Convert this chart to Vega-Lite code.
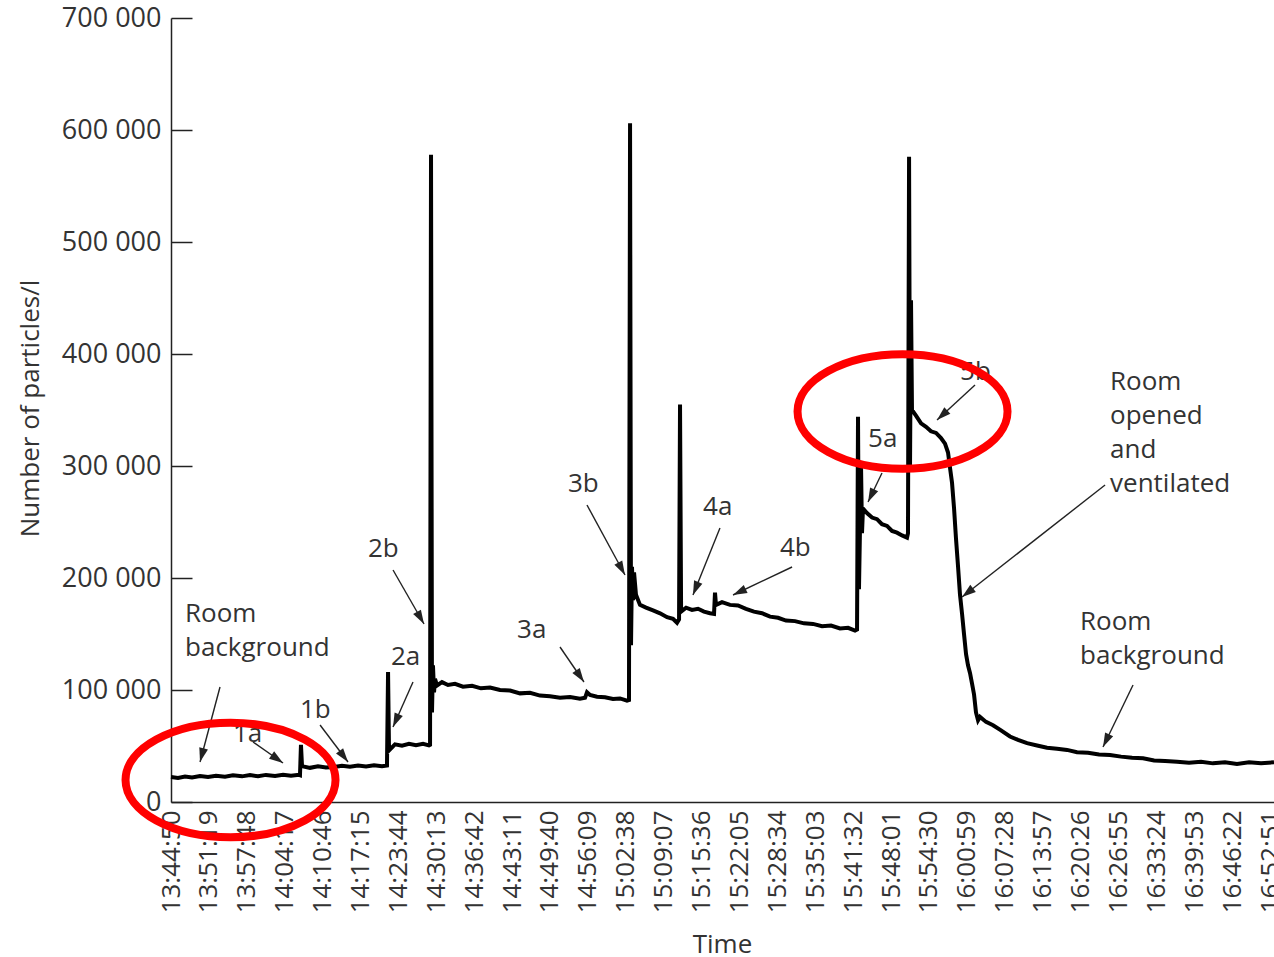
{
  "$schema": "https://vega.github.io/schema/vega-lite/v6.json",
  "width": 1103,
  "height": 784,
  "autosize": {"type": "none"},
  "padding": {"left": 171, "top": 18, "right": 0, "bottom": 155},
  "background": "white",
  "config": {"view": {"stroke": null}, "font": "Open Sans"},
  "datasets": {
    "series": [
      {"t":"13:44:50","v":22300},{"t":"13:46:02","v":21500},{"t":"13:47:14","v":22800},{"t":"13:48:26","v":21800},
      {"t":"13:49:48","v":23200},{"t":"13:51:10","v":22400},{"t":"13:52:32","v":23500},{"t":"13:54:04","v":22600},
      {"t":"13:55:26","v":23800},{"t":"13:56:59","v":22900},{"t":"13:58:21","v":24000},{"t":"13:59:43","v":23000},
      {"t":"14:01:05","v":24200},{"t":"14:02:38","v":23300},{"t":"14:04:00","v":24400},{"t":"14:05:22","v":23400},
      {"t":"14:06:44","v":24300},{"t":"14:06:54","v":24000},{"t":"14:07:04","v":51000},{"t":"14:07:15","v":32000},
      {"t":"14:08:37","v":30500},{"t":"14:09:59","v":31800},{"t":"14:11:21","v":30800},{"t":"14:12:43","v":31200},
      {"t":"14:14:05","v":32400},{"t":"14:15:27","v":31500},{"t":"14:16:50","v":32600},{"t":"14:18:12","v":31700},
      {"t":"14:19:34","v":32800},{"t":"14:20:56","v":31900},{"t":"14:21:47","v":32500},{"t":"14:21:58","v":116000},
      {"t":"14:22:08","v":46000},{"t":"14:23:09","v":51500},{"t":"14:24:21","v":50200},{"t":"14:25:33","v":52000},
      {"t":"14:26:45","v":50800},{"t":"14:27:57","v":51900},{"t":"14:28:58","v":50500},{"t":"14:29:09","v":51000},
      {"t":"14:29:19","v":578000},{"t":"14:29:29","v":80000},{"t":"14:29:39","v":122000},{"t":"14:29:50","v":98000},
      {"t":"14:30:00","v":110000},{"t":"14:30:20","v":104000},{"t":"14:31:12","v":107000},{"t":"14:32:13","v":104500},
      {"t":"14:33:25","v":105500},{"t":"14:34:47","v":103000},{"t":"14:36:20","v":103800},{"t":"14:37:52","v":101500},
      {"t":"14:39:25","v":102200},{"t":"14:41:07","v":100000},{"t":"14:42:50","v":99500},{"t":"14:44:33","v":97000},
      {"t":"14:46:15","v":97500},{"t":"14:47:58","v":95000},{"t":"14:49:40","v":94500},{"t":"14:51:23","v":93000},
      {"t":"14:53:06","v":93800},{"t":"14:54:48","v":92200},{"t":"14:55:40","v":93000},{"t":"14:56:00","v":98000},
      {"t":"14:56:31","v":95500},{"t":"14:57:43","v":94000},{"t":"14:59:05","v":93500},{"t":"15:00:27","v":92000},
      {"t":"15:01:39","v":92500},{"t":"15:02:51","v":90500},{"t":"15:03:11","v":91000},{"t":"15:03:22","v":606000},
      {"t":"15:03:32","v":140000},{"t":"15:03:42","v":210000},{"t":"15:03:53","v":180000},{"t":"15:04:03","v":205000},
      {"t":"15:04:23","v":185000},{"t":"15:05:04","v":176000},{"t":"15:06:06","v":173500},{"t":"15:07:18","v":171000},
      {"t":"15:08:30","v":168500},{"t":"15:09:42","v":165000},{"t":"15:10:43","v":163500},{"t":"15:11:24","v":160000},
      {"t":"15:11:45","v":163000},{"t":"15:11:55","v":355000},{"t":"15:12:06","v":170000},{"t":"15:12:57","v":173500},
      {"t":"15:13:58","v":171500},{"t":"15:15:00","v":172500},{"t":"15:16:01","v":170000},{"t":"15:17:03","v":168500},
      {"t":"15:17:44","v":168000},{"t":"15:17:54","v":187000},{"t":"15:18:04","v":176000},{"t":"15:19:06","v":178500},
      {"t":"15:20:28","v":176000},{"t":"15:21:50","v":175500},{"t":"15:23:12","v":172500},{"t":"15:24:34","v":170000},
      {"t":"15:25:57","v":168500},{"t":"15:27:19","v":165500},{"t":"15:28:41","v":164500},{"t":"15:30:03","v":162000},
      {"t":"15:31:35","v":161500},{"t":"15:33:08","v":159500},{"t":"15:34:40","v":159000},{"t":"15:36:13","v":157000},
      {"t":"15:37:45","v":157500},{"t":"15:39:17","v":155000},{"t":"15:40:40","v":155500},{"t":"15:41:51","v":153000},
      {"t":"15:42:12","v":154000},{"t":"15:42:22","v":344000},{"t":"15:42:32","v":190000},{"t":"15:42:53","v":300000},
      {"t":"15:43:03","v":240000},{"t":"15:43:13","v":262000},{"t":"15:43:54","v":258000},{"t":"15:44:46","v":254000},
      {"t":"15:45:37","v":252500},{"t":"15:46:28","v":248000},{"t":"15:47:20","v":246500},{"t":"15:48:11","v":242000},
      {"t":"15:49:02","v":240500},{"t":"15:49:54","v":238000},{"t":"15:50:45","v":236000},{"t":"15:50:55","v":240000},
      {"t":"15:51:06","v":576000},{"t":"15:51:16","v":300000},{"t":"15:51:26","v":448000},{"t":"15:51:36","v":350000},
      {"t":"15:52:17","v":345000},{"t":"15:53:09","v":338000},{"t":"15:54:00","v":335000},{"t":"15:54:51","v":331000},
      {"t":"15:55:43","v":329500},{"t":"15:56:34","v":325000},{"t":"15:57:15","v":320000},{"t":"15:57:46","v":312000},
      {"t":"15:58:07","v":298000},{"t":"15:58:27","v":285000},{"t":"15:58:48","v":262000},{"t":"15:59:08","v":235000},
      {"t":"15:59:29","v":210000},{"t":"15:59:49","v":185000},{"t":"16:00:10","v":168000},{"t":"16:00:30","v":150000},
      {"t":"16:00:51","v":132000},{"t":"16:01:11","v":122000},{"t":"16:01:32","v":115000},{"t":"16:01:52","v":106000},
      {"t":"16:02:13","v":96000},{"t":"16:02:33","v":80000},{"t":"16:02:54","v":73000},{"t":"16:03:14","v":76000},
      {"t":"16:04:16","v":71500},{"t":"16:05:28","v":68500},{"t":"16:06:50","v":64000},{"t":"16:08:22","v":58500},
      {"t":"16:09:44","v":55500},{"t":"16:11:17","v":52500},{"t":"16:13:00","v":50500},{"t":"16:14:42","v":48500},
      {"t":"16:16:25","v":47500},{"t":"16:18:08","v":46500},{"t":"16:19:50","v":44500},{"t":"16:21:43","v":44000},
      {"t":"16:23:36","v":42500},{"t":"16:25:29","v":42000},{"t":"16:27:22","v":40500},{"t":"16:29:15","v":39500},
      {"t":"16:31:08","v":39000},{"t":"16:33:01","v":37000},{"t":"16:34:54","v":36500},{"t":"16:36:57","v":36000},
      {"t":"16:39:00","v":35000},{"t":"16:41:03","v":36000},{"t":"16:43:06","v":34500},{"t":"16:45:09","v":35500},
      {"t":"16:47:12","v":34000},{"t":"16:49:16","v":35500},{"t":"16:51:19","v":34500},{"t":"16:53:32","v":35500}
    ],
    "labels": [
      {"t":"13:47:14","v":160714,"label":"Room\nbackground"},
      {"t":"13:55:26","v":53571,"label":"1a"},
      {"t":"14:06:54","v":75000,"label":"1b"},
      {"t":"14:22:28","v":122321,"label":"2a"},
      {"t":"14:18:32","v":218750,"label":"2b"},
      {"t":"14:44:02","v":146429,"label":"3a"},
      {"t":"14:52:45","v":276786,"label":"3b"},
      {"t":"15:15:51","v":256250,"label":"4a"},
      {"t":"15:29:01","v":219643,"label":"4b"},
      {"t":"15:44:05","v":316964,"label":"5a"},
      {"t":"15:59:49","v":376786,"label":"5b"},
      {"t":"16:25:29","v":367857,"label":"Room\nopened\nand\nventilated"},
      {"t":"16:20:21","v":153571,"label":"Room\nbackground"}
    ],
    "arrowLines": [
      {"id":1,"t":"13:53:13","v":102679},{"id":1,"t":"13:49:48","v":35714},
      {"id":2,"t":"13:58:52","v":53571},{"id":2,"t":"14:04:00","v":34821},
      {"id":3,"t":"14:10:20","v":68750},{"id":3,"t":"14:15:07","v":35714},
      {"id":4,"t":"14:26:14","v":107143},{"id":4,"t":"14:22:49","v":66964},
      {"id":5,"t":"14:22:49","v":207143},{"id":5,"t":"14:28:07","v":158929},
      {"id":6,"t":"14:51:23","v":138393},{"id":6,"t":"14:55:29","v":107143},
      {"id":7,"t":"14:56:00","v":265179},{"id":7,"t":"15:02:30","v":202679},
      {"id":8,"t":"15:18:45","v":244643},{"id":8,"t":"15:14:08","v":184821},
      {"id":9,"t":"15:31:05","v":209821},{"id":9,"t":"15:20:59","v":184821},
      {"id":10,"t":"15:46:28","v":293750},{"id":10,"t":"15:44:05","v":267857},
      {"id":11,"t":"16:02:23","v":372321},{"id":11,"t":"15:55:53","v":341071},
      {"id":12,"t":"16:24:38","v":283036},{"id":12,"t":"16:00:10","v":183036},
      {"id":13,"t":"16:29:25","v":104464},{"id":13,"t":"16:24:17","v":49107}
    ],
    "arrowHeads": [
      {"t":"13:49:48","v":35714,"angle":-165.1},
      {"t":"14:04:00","v":34821,"angle":125.0},
      {"t":"14:15:07","v":35714,"angle":142.9},
      {"t":"14:22:49","v":66964,"angle":-156.0},
      {"t":"14:28:07","v":158929,"angle":150.1},
      {"t":"14:55:29","v":107143,"angle":145.6},
      {"t":"15:02:30","v":202679,"angle":151.5},
      {"t":"15:14:08","v":184821,"angle":-158.1},
      {"t":"15:20:59","v":184821,"angle":-115.4},
      {"t":"15:44:05","v":267857,"angle":-154.2},
      {"t":"15:55:53","v":341071,"angle":-132.6},
      {"t":"16:00:10","v":183036,"angle":-128.1},
      {"t":"16:24:17","v":49107,"angle":-154.2}
    ],
    "ellipses": [
      {"t":"13:55:01","v":19643},
      {"t":"15:49:59","v":348661}
    ]
  },
  "encoding": {
    "x": {
      "field": "t",
      "type": "temporal",
      "scale": {
        "domain": [
          {"year":1900,"month":1,"date":1,"hours":13,"minutes":44,"seconds":50},
          {"year":1900,"month":1,"date":1,"hours":16,"minutes":53,"seconds":32}
        ],
        "nice": false
      },
      "axis": {
        "title": "Time",
        "format": "%H:%M:%S",
        "values": [
          {"year":1900,"month":1,"date":1,"hours":13,"minutes":44,"seconds":50},
          {"year":1900,"month":1,"date":1,"hours":13,"minutes":51,"seconds":19},
          {"year":1900,"month":1,"date":1,"hours":13,"minutes":57,"seconds":48},
          {"year":1900,"month":1,"date":1,"hours":14,"minutes":4,"seconds":17},
          {"year":1900,"month":1,"date":1,"hours":14,"minutes":10,"seconds":46},
          {"year":1900,"month":1,"date":1,"hours":14,"minutes":17,"seconds":15},
          {"year":1900,"month":1,"date":1,"hours":14,"minutes":23,"seconds":44},
          {"year":1900,"month":1,"date":1,"hours":14,"minutes":30,"seconds":13},
          {"year":1900,"month":1,"date":1,"hours":14,"minutes":36,"seconds":42},
          {"year":1900,"month":1,"date":1,"hours":14,"minutes":43,"seconds":11},
          {"year":1900,"month":1,"date":1,"hours":14,"minutes":49,"seconds":40},
          {"year":1900,"month":1,"date":1,"hours":14,"minutes":56,"seconds":9},
          {"year":1900,"month":1,"date":1,"hours":15,"minutes":2,"seconds":38},
          {"year":1900,"month":1,"date":1,"hours":15,"minutes":9,"seconds":7},
          {"year":1900,"month":1,"date":1,"hours":15,"minutes":15,"seconds":36},
          {"year":1900,"month":1,"date":1,"hours":15,"minutes":22,"seconds":5},
          {"year":1900,"month":1,"date":1,"hours":15,"minutes":28,"seconds":34},
          {"year":1900,"month":1,"date":1,"hours":15,"minutes":35,"seconds":3},
          {"year":1900,"month":1,"date":1,"hours":15,"minutes":41,"seconds":32},
          {"year":1900,"month":1,"date":1,"hours":15,"minutes":48,"seconds":1},
          {"year":1900,"month":1,"date":1,"hours":15,"minutes":54,"seconds":30},
          {"year":1900,"month":1,"date":1,"hours":16,"minutes":0,"seconds":59},
          {"year":1900,"month":1,"date":1,"hours":16,"minutes":7,"seconds":28},
          {"year":1900,"month":1,"date":1,"hours":16,"minutes":13,"seconds":57},
          {"year":1900,"month":1,"date":1,"hours":16,"minutes":20,"seconds":26},
          {"year":1900,"month":1,"date":1,"hours":16,"minutes":26,"seconds":55},
          {"year":1900,"month":1,"date":1,"hours":16,"minutes":33,"seconds":24},
          {"year":1900,"month":1,"date":1,"hours":16,"minutes":39,"seconds":53},
          {"year":1900,"month":1,"date":1,"hours":16,"minutes":46,"seconds":22},
          {"year":1900,"month":1,"date":1,"hours":16,"minutes":52,"seconds":51}
        ],
        "labelAngle": 270,
        "labelAlign": "right",
        "labelBaseline": "middle",
        "labelPadding": 8,
        "labelFont": "Open Sans",
        "labelFontSize": 26,
        "labelColor": "#333333",
        "labelFlush": false,
        "labelOverlap": false,
        "labelBound": false,
        "ticks": false,
        "grid": false,
        "domainColor": "#222222",
        "domainWidth": 1.5,
        "titleFont": "Open Sans",
        "titleFontSize": 26,
        "titleFontWeight": "normal",
        "titleColor": "#333333",
        "titleX": 551,
        "titleY": 150,
        "titleAlign": "center",
        "titleBaseline": "alphabetic"
      }
    },
    "y": {
      "field": "v",
      "type": "quantitative",
      "scale": {"domain": [0, 700000], "nice": false},
      "axis": {
        "title": "Number of particles/l",
        "values": [0, 100000, 200000, 300000, 400000, 500000, 600000, 700000],
        "labelExpr": "replace(format(datum.value, ','), ',', ' ')",
        "tickSize": -21,
        "tickWidth": 1.5,
        "tickColor": "#222222",
        "labelPadding": 31,
        "labelFont": "Open Sans",
        "labelFontSize": 27,
        "labelColor": "#333333",
        "labelFlush": false,
        "labelOverlap": false,
        "grid": false,
        "domainColor": "#222222",
        "domainWidth": 1.5,
        "titleFont": "Open Sans",
        "titleFontSize": 26,
        "titleFontWeight": "normal",
        "titleColor": "#333333",
        "titleX": -141,
        "titleY": 390,
        "titleAngle": 270,
        "titleAlign": "center",
        "titleBaseline": "middle"
      }
    }
  },
  "layer": [
    {
      "data": {"name": "series", "format": {"parse": {"t": "date:'%H:%M:%S'"}}},
      "mark": {"type": "line", "color": "black", "strokeWidth": 4}
    },
    {
      "data": {"name": "arrowLines", "format": {"parse": {"t": "date:'%H:%M:%S'"}}},
      "mark": {"type": "line", "color": "#222222", "strokeWidth": 1.4},
      "encoding": {
        "detail": {"field": "id", "type": "nominal"}
      }
    },
    {
      "data": {"name": "arrowHeads", "format": {"parse": {"t": "date:'%H:%M:%S'"}}},
      "mark": {"type": "point", "shape": "M0,0L-0.32,1L0.32,1Z", "filled": true, "color": "#222222", "size": 784, "opacity": 1},
      "encoding": {
        "angle": {"field": "angle", "type": "quantitative", "scale": null}
      }
    },
    {
      "data": {"name": "labels", "format": {"parse": {"t": "date:'%H:%M:%S'"}}},
      "mark": {"type": "text", "align": "left", "baseline": "alphabetic", "font": "Open Sans", "fontSize": 26, "color": "#333333", "lineBreak": "\n", "lineHeight": 34},
      "encoding": {
        "text": {"field": "label", "type": "nominal"}
      }
    },
    {
      "data": {"name": "ellipses", "format": {"parse": {"t": "date:'%H:%M:%S'"}}},
      "mark": {"type": "point", "shape": "M-1,0A1,0.545,0,1,1,1,0A1,0.545,0,1,1,-1,0Z", "filled": false, "stroke": "#ff0000", "strokeWidth": 8, "size": 44100, "opacity": 1}
    }
  ]
}
